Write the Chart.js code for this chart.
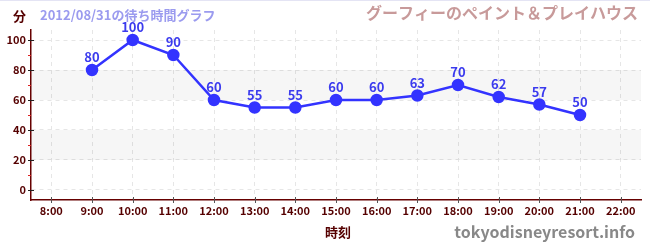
<!DOCTYPE html>
<html>
<head>
<meta charset="utf-8">
<script src="https://cdn.jsdelivr.net/npm/chart.js@4"></script>
<style>
  html, body { margin: 0; padding: 0; background: #fff; }
  #wrap { width: 650px; height: 250px; position: relative; }
</style>
</head>
<body>
<div id="wrap"><canvas id="waitChart"></canvas></div>
<script>
// wait time data (hour of day -> minutes)
const hours = [9, 10, 11, 12, 13, 14, 15, 16, 17, 18, 19, 20, 21];
const waits = [80, 100, 90, 60, 55, 55, 60, 60, 63, 70, 62, 57, 50];
const hourTicks = [8, 9, 10, 11, 12, 13, 14, 15, 16, 17, 18, 19, 20, 21, 22];
const waitTicks = [0, 20, 40, 60, 80, 100];
const bands = [[20, 40], [60, 80]];

const dateTitle = '2012/08/31の待ち時間グラフ';
const attraction = 'グーフィーのペイント＆プレイハウス';
const fontFamily = '"Noto Sans CJK JP", "Noto Sans", sans-serif';

// bands, extra ticks, point labels and header texts
const decoPlugin = {
    id: 'deco',
    beforeDatasetsDraw(chart) {
        const { ctx, chartArea: a, scales: { y } } = chart;
        ctx.save();
        ctx.fillStyle = 'rgba(0,0,0,0.035)';
        bands.forEach(b => {
            const top = y.getPixelForValue(b[1]);
            const bot = y.getPixelForValue(b[0]);
            ctx.fillRect(a.left, top, a.right - a.left, bot - top);
        });
        ctx.restore();
    },
    afterDatasetsDraw(chart) {
        const { ctx, chartArea: a, scales: { x, y } } = chart;
        ctx.save();

        // y major ticks (black) and minor ticks (red)
        ctx.lineWidth = 1;
        ctx.strokeStyle = '#222';
        waitTicks.forEach(v => {
            const py = Math.round(y.getPixelForValue(v)) + 0.5;
            ctx.beginPath();
            ctx.moveTo(a.left - 3, py);
            ctx.lineTo(a.left + 3, py);
            ctx.stroke();
        });
        ctx.strokeStyle = '#dd2222';
        [10, 30, 50, 70, 90].forEach(v => {
            const py = Math.round(y.getPixelForValue(v)) + 0.5;
            ctx.beginPath();
            ctx.moveTo(a.left - 3, py);
            ctx.lineTo(a.left, py);
            ctx.stroke();
        });

        // x ticks
        ctx.strokeStyle = '#555';
        hourTicks.forEach(h => {
            const px = Math.round(x.getPixelForValue(h)) + 0.5;
            ctx.beginPath();
            ctx.moveTo(px, a.bottom - 3);
            ctx.lineTo(px, a.bottom + 3);
            ctx.stroke();
        });

        // point labels
        const meta = chart.getDatasetMeta(0);
        ctx.fillStyle = '#3b3bee';
        ctx.font = 'bold 13px ' + fontFamily;
        ctx.textAlign = 'center';
        ctx.textBaseline = 'bottom';
        meta.data.forEach((pt, i) => {
            ctx.fillText(String(waits[i]), pt.x, pt.y - 6);
        });

        // header texts
        ctx.textBaseline = 'middle';
        ctx.textAlign = 'left';
        ctx.fillStyle = '#550000';
        ctx.font = 'bold 13px ' + fontFamily;
        ctx.fillText('分', 13, 16);
        ctx.fillStyle = '#9b9bef';
        ctx.font = 'bold 13px ' + fontFamily;
        ctx.fillText(dateTitle, 40, 15);
        ctx.textAlign = 'right';
        ctx.fillStyle = '#c89a9a';
        ctx.font = 'bold 16px ' + fontFamily;
        ctx.fillText(attraction, 638, 13);

        // axis title and site name
        ctx.textAlign = 'center';
        ctx.fillStyle = '#550000';
        ctx.font = 'bold 13px ' + fontFamily;
        ctx.fillText('時刻', 338, 232);
        ctx.textAlign = 'right';
        ctx.fillStyle = '#888';
        ctx.font = 'bold 16px ' + fontFamily;
        ctx.fillText('tokyodisneyresort.info', 635, 232);

        // faint top rule
        ctx.fillStyle = '#e4e4f4';
        ctx.fillRect(0, 0, 650, 1);
        ctx.restore();
    }
};

new Chart(document.getElementById('waitChart'), {
    type: 'line',
    data: {
        datasets: [{
            data: hours.map((h, i) => ({ x: h, y: waits[i] })),
            borderColor: '#3333ff',
            backgroundColor: '#3333ff',
            borderWidth: 2.5,
            pointRadius: 5,
            pointHoverRadius: 5,
            tension: 0
        }]
    },
    plugins: [decoPlugin],
    options: {
        responsive: true,
        maintainAspectRatio: false,
        animation: false,
        events: [],
        layout: { padding: { top: 30, right: 9, left: 0, bottom: 0 } },
        plugins: { legend: { display: false }, tooltip: { enabled: false } },
        scales: {
            x: {
                type: 'linear',
                min: 7.5,
                max: 22.5,
                afterBuildTicks: s => { s.ticks = hourTicks.map(v => ({ value: v })); },
                afterFit: s => { s.height = 50; },
                ticks: {
                    padding: 4,
                    color: '#550000',
                    font: { family: fontFamily, size: 11, weight: 'bold' },
                    callback: v => v + ':00'
                },
                grid: { color: '#e6e6e6', drawTicks: false, tickLength: 0 },
                border: { color: '#660000', width: 1.5, dash: [4, 4] }
            },
            y: {
                min: -6.67,
                max: 106.67,
                afterBuildTicks: s => { s.ticks = waitTicks.map(v => ({ value: v })); },
                afterFit: s => { s.width = 31; },
                ticks: {
                    padding: 5,
                    color: '#550000',
                    font: { family: fontFamily, size: 11, weight: 'bold' }
                },
                grid: { color: '#e6e6e6', drawTicks: false, tickLength: 0 },
                border: { color: '#660000', width: 1.5, dash: [4, 4] }
            }
        }
    }
});
</script>
</body>
</html>
